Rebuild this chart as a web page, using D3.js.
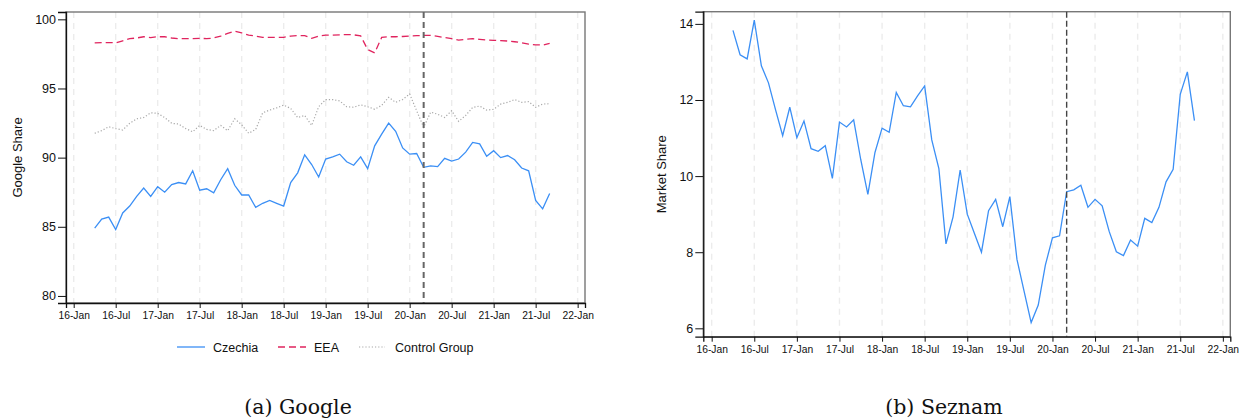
<!DOCTYPE html>
<html lang="en">
<head>
  <meta charset="UTF-8">
  <title>Google and Seznam shares</title>
  <style>
    body { margin: 0; background: #fff; }
    svg { display: block; font-family: "Liberation Sans", Arial, sans-serif; }
    .tick text { fill: #111; }
  </style>
</head>
<body>
  <div id="chart"></div>

  <script src="https://d3js.org/d3.v7.min.js"></script>
  <script>

    // months are counted from Jan 2016 (0); data run from Apr 2016 to Sep 2021
    const firstMonth = 3;
    const eventMonth = 50;   // Mar 2020

    const tickLabels = ["16-Jan","16-Jul","17-Jan","17-Jul","18-Jan","18-Jul","19-Jan",
                        "19-Jul","20-Jan","20-Jul","21-Jan","21-Jul","22-Jan"];

    const czechia = [84.9,85.55,85.7,84.8,86.0,86.5,87.2,87.8,87.2,87.9,87.5,88.05,88.2,88.1,
                     89.05,87.65,87.75,87.45,88.4,89.2,88.0,87.3,87.3,86.4,86.7,86.9,86.7,86.5,
                     88.2,88.9,90.2,89.5,88.6,89.9,90.05,90.25,89.7,89.45,90.05,89.2,90.85,91.7,
                     92.5,91.9,90.7,90.25,90.3,89.3,89.4,89.35,89.95,89.75,89.9,90.4,91.1,91.0,
                     90.1,90.5,90.0,90.15,89.85,89.25,89.05,86.9,86.3,87.4];

    const eea = [98.3,98.32,98.32,98.3,98.45,98.6,98.65,98.74,98.68,98.74,98.74,98.65,98.6,98.6,
                 98.6,98.63,98.6,98.65,98.79,98.98,99.15,99.02,98.86,98.79,98.7,98.7,98.7,98.7,
                 98.79,98.82,98.82,98.63,98.79,98.86,98.86,98.88,98.9,98.88,98.8,97.82,97.58,98.69,
                 98.74,98.74,98.76,98.79,98.82,98.84,98.84,98.77,98.68,98.6,98.5,98.55,98.6,98.55,
                 98.5,98.48,98.46,98.43,98.38,98.31,98.2,98.16,98.14,98.26];

    const control = [91.76,91.95,92.23,92.1,92.0,92.48,92.81,92.9,93.24,93.2,92.9,92.48,92.43,92.1,
                     91.87,92.33,92.04,91.95,92.33,91.95,92.81,92.38,91.76,92.04,93.24,93.44,93.6,93.8,
                     93.56,92.9,93.05,92.33,93.68,94.2,94.2,94.1,93.68,93.64,93.82,93.68,93.5,93.78,
                     94.36,94.0,94.2,94.6,93.39,92.19,93.29,93.14,92.9,93.39,92.62,93.05,93.63,93.73,
                     93.44,93.49,93.87,94.0,94.2,94.0,94.05,93.64,93.87,93.9];

    const seznam = [13.83,13.19,13.08,14.1,12.9,12.45,11.74,11.06,11.81,11.01,11.45,10.72,10.65,10.8,
                    9.94,11.42,11.29,11.48,10.43,9.52,10.62,11.26,11.15,12.2,11.85,11.82,12.11,12.37,
                    10.95,10.2,8.22,8.93,10.16,9.0,8.5,8.0,9.09,9.39,8.67,9.46,7.81,6.98,
                    6.15,6.61,7.66,8.38,8.43,9.59,9.64,9.76,9.18,9.39,9.22,8.54,8.01,7.91,
                    8.32,8.16,8.89,8.78,9.18,9.85,10.18,12.15,12.74,11.46];

    const googleSeries = [
      {name: "Czechia", values: czechia, color: "#3b8ff5", dash: null, width: 1.3},
      {name: "EEA", values: eea, color: "#e0245e", dash: "7,4", width: 1.3},
      {name: "Control Group", values: control, color: "#a8a8a8", dash: "1.2,2", width: 1.2}
    ];

    const width = 1239, height = 418;

    const svg = d3.select("#chart")
      .append("svg")
      .attr("width", width)
      .attr("height", height)
      .attr("viewBox", [0, 0, width, height]);

    function panel(opts) {
      const {box, xDomain, yDomain, yTicks, series, yTitle, titleX, eventColor, eventWidth, eventDash} = opts;

      const x = d3.scaleLinear(xDomain, [box.left, box.right]);
      const y = d3.scaleLinear(yDomain, [box.bottom, box.top]);
      const g = svg.append("g");

      // vertical dashed grid
      g.append("g")
        .selectAll("line")
        .data(tickLabels)
        .join("line")
        .attr("x1", (d, i) => x(i * 6))
        .attr("x2", (d, i) => x(i * 6))
        .attr("y1", box.top)
        .attr("y2", box.bottom)
        .attr("stroke", "#ececec")
        .attr("stroke-width", 1.4)
        .attr("stroke-dasharray", "6,5");

      // plot frame
      g.append("rect")
        .attr("x", box.left)
        .attr("y", box.top)
        .attr("width", box.right - box.left)
        .attr("height", box.bottom - box.top)
        .attr("fill", "none")
        .attr("stroke", "#777")
        .attr("stroke-width", 1.4);

      // series lines
      const line = d3.line()
        .x((d, i) => x(firstMonth + i))
        .y(d => y(d));

      g.append("g")
        .selectAll("path")
        .data(series)
        .join("path")
        .attr("fill", "none")
        .attr("stroke", d => d.color)
        .attr("stroke-width", d => d.width)
        .attr("stroke-dasharray", d => d.dash)
        .attr("d", d => line(d.values));

      // event line
      g.append("line")
        .attr("x1", x(eventMonth))
        .attr("x2", x(eventMonth))
        .attr("y1", box.top)
        .attr("y2", box.bottom)
        .attr("stroke", eventColor)
        .attr("stroke-width", eventWidth)
        .attr("stroke-dasharray", eventDash);

      // axes
      const xAxis = g.append("g")
        .attr("transform", `translate(0,${box.bottom})`)
        .call(d3.axisBottom(x)
          .tickValues(tickLabels.map((d, i) => i * 6))
          .tickFormat((d, i) => tickLabels[i])
          .tickSize(5)
          .tickPadding(4));
      xAxis.selectAll("text").attr("font-size", 10.3);

      const yAxis = g.append("g")
        .attr("transform", `translate(${box.left},0)`)
        .call(d3.axisLeft(y)
          .tickValues(yTicks)
          .tickSize(8)
          .tickPadding(2));
      yAxis.selectAll("text").attr("font-size", 12.5);

      [xAxis, yAxis].forEach(a => {
        a.select(".domain").attr("stroke", "#111").attr("stroke-width", 1.3);
        a.selectAll(".tick line").attr("stroke", "#111");
        a.attr("font-family", null);
      });

      g.append("text")
        .attr("transform", `translate(${titleX},${(box.top + box.bottom) / 2}) rotate(-90)`)
        .attr("text-anchor", "middle")
        .attr("font-size", 13)
        .attr("fill", "#111")
        .text(yTitle);

      return {x, y};
    }

    panel({
      box: {left: 66, right: 585, top: 12, bottom: 303},
      xDomain: [-1.1, 73.05],
      yDomain: [79.49, 100.53],
      yTicks: [80, 85, 90, 95, 100],
      series: googleSeries,
      yTitle: "Google Share",
      titleX: 22,
      eventColor: "#666",
      eventWidth: 2,
      eventDash: "6,4"
    });

    panel({
      box: {left: 703.3, right: 1230.3, top: 11.7, bottom: 336.7},
      xDomain: [-1.18, 73.05],
      yDomain: [5.78, 14.32],
      yTicks: [6, 8, 10, 12, 14],
      series: [{name: "Seznam", values: seznam, color: "#3b8ff5", dash: null, width: 1.3}],
      yTitle: "Market Share",
      titleX: 666,
      eventColor: "#444",
      eventWidth: 1.4,
      eventDash: "6,3"
    });

    // legend for the Google panel
    const legendX = [177, 278, 359];
    const legend = svg.append("g")
      .selectAll("g")
      .data(googleSeries)
      .join("g")
      .attr("transform", (d, i) => `translate(${legendX[i]},347)`);

    legend.append("line")
      .attr("x1", 0)
      .attr("x2", (d, i) => i === 2 ? 26 : 28)
      .attr("stroke", d => d.color)
      .attr("stroke-width", d => d.width)
      .attr("stroke-dasharray", d => d.dash);

    legend.append("text")
      .attr("x", (d, i) => i === 2 ? 36 : 36)
      .attr("y", 5)
      .attr("font-size", 12.5)
      .attr("fill", "#111")
      .text(d => d.name);

    // sub-figure captions
    const captions = ["(a) Google", "(b) Seznam"];
    const captionX = [298, 944];

    svg.append("g")
      .selectAll("text")
      .data(captions)
      .join("text")
      .attr("x", (d, i) => captionX[i])
      .attr("y", 414)
      .attr("text-anchor", "middle")
      .attr("font-family", "'DejaVu Serif', 'Liberation Serif', serif")
      .attr("font-size", 20.5)
      .attr("fill", "#111")
      .text(d => d);

  </script>
</body>
</html>
